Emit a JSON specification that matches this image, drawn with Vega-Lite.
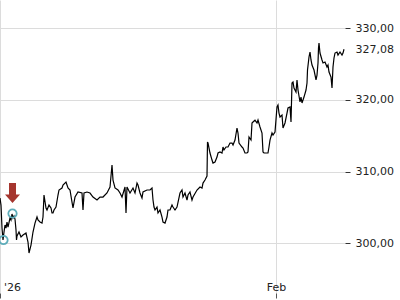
{
  "$schema": "https://vega.github.io/schema/vega-lite/v6.json",
  "width": 345,
  "height": 293,
  "autosize": {"type": "none"},
  "padding": {"left": 0, "top": 0, "right": 55, "bottom": 7},
  "config": {"view": {"stroke": null}, "font": "DejaVu Sans"},
  "datasets": {
    "price": [
      {"t": "2025-12-31T22:39", "v": 306.32},
      {"t": "2026-01-01T01:21", "v": 305.34},
      {"t": "2026-01-01T04:03", "v": 302.13},
      {"t": "2026-01-01T06:45", "v": 300.46},
      {"t": "2026-01-01T09:27", "v": 301.58},
      {"t": "2026-01-01T12:09", "v": 302.55},
      {"t": "2026-01-01T14:51", "v": 302.13},
      {"t": "2026-01-01T17:33", "v": 302.97},
      {"t": "2026-01-01T20:15", "v": 302.27},
      {"t": "2026-01-02T01:39", "v": 303.53},
      {"t": "2026-01-02T04:22", "v": 303.25},
      {"t": "2026-01-02T07:04", "v": 304.09},
      {"t": "2026-01-02T09:46", "v": 303.53},
      {"t": "2026-01-02T12:28", "v": 303.81},
      {"t": "2026-01-02T15:10", "v": 303.39},
      {"t": "2026-01-02T17:52", "v": 301.86},
      {"t": "2026-01-02T19:13", "v": 300.46},
      {"t": "2026-01-02T20:34", "v": 301.02},
      {"t": "2026-01-03T01:58", "v": 301.58},
      {"t": "2026-01-03T07:22", "v": 300.88},
      {"t": "2026-01-03T12:46", "v": 301.16},
      {"t": "2026-01-03T20:52", "v": 301.44},
      {"t": "2026-01-04T02:16", "v": 300.18},
      {"t": "2026-01-04T04:58", "v": 298.65},
      {"t": "2026-01-04T10:22", "v": 299.76},
      {"t": "2026-01-04T15:46", "v": 301.58},
      {"t": "2026-01-04T21:10", "v": 302.83},
      {"t": "2026-01-05T02:34", "v": 303.67},
      {"t": "2026-01-05T05:16", "v": 303.25},
      {"t": "2026-01-05T10:40", "v": 302.97},
      {"t": "2026-01-05T16:04", "v": 302.83},
      {"t": "2026-01-05T18:46", "v": 303.67},
      {"t": "2026-01-05T21:28", "v": 306.74},
      {"t": "2026-01-06T02:52", "v": 304.93},
      {"t": "2026-01-06T05:34", "v": 304.65},
      {"t": "2026-01-06T10:58", "v": 305.34},
      {"t": "2026-01-06T16:23", "v": 304.93},
      {"t": "2026-01-06T19:05", "v": 304.23},
      {"t": "2026-01-06T21:47", "v": 304.23},
      {"t": "2026-01-07T00:29", "v": 304.65},
      {"t": "2026-01-07T05:53", "v": 305.06},
      {"t": "2026-01-07T11:17", "v": 306.74},
      {"t": "2026-01-07T13:59", "v": 307.44},
      {"t": "2026-01-07T22:05", "v": 307.72},
      {"t": "2026-01-08T00:47", "v": 308.13},
      {"t": "2026-01-08T08:53", "v": 308.55},
      {"t": "2026-01-08T11:35", "v": 308.13},
      {"t": "2026-01-08T14:17", "v": 307.72},
      {"t": "2026-01-08T19:41", "v": 307.44},
      {"t": "2026-01-09T01:05", "v": 305.76},
      {"t": "2026-01-09T03:47", "v": 304.93},
      {"t": "2026-01-09T09:11", "v": 306.46},
      {"t": "2026-01-09T17:17", "v": 307.16},
      {"t": "2026-01-10T04:05", "v": 307.02},
      {"t": "2026-01-10T06:47", "v": 304.65},
      {"t": "2026-01-10T09:29", "v": 307.02},
      {"t": "2026-01-10T17:35", "v": 307.16},
      {"t": "2026-01-11T01:42", "v": 307.02},
      {"t": "2026-01-11T09:48", "v": 306.46},
      {"t": "2026-01-11T20:36", "v": 306.04},
      {"t": "2026-01-12T04:42", "v": 306.46},
      {"t": "2026-01-12T12:48", "v": 306.46},
      {"t": "2026-01-12T23:36", "v": 307.02},
      {"t": "2026-01-13T07:43", "v": 307.86},
      {"t": "2026-01-13T13:07", "v": 310.92},
      {"t": "2026-01-13T15:49", "v": 308.83},
      {"t": "2026-01-13T21:13", "v": 307.72},
      {"t": "2026-01-14T05:19", "v": 307.44},
      {"t": "2026-01-14T10:43", "v": 307.02},
      {"t": "2026-01-14T16:07", "v": 306.46},
      {"t": "2026-01-15T00:13", "v": 307.86},
      {"t": "2026-01-15T02:55", "v": 304.23},
      {"t": "2026-01-15T05:37", "v": 307.86},
      {"t": "2026-01-15T13:43", "v": 307.02},
      {"t": "2026-01-15T21:49", "v": 307.72},
      {"t": "2026-01-16T03:13", "v": 307.02},
      {"t": "2026-01-16T08:37", "v": 308.41},
      {"t": "2026-01-16T11:19", "v": 308.13},
      {"t": "2026-01-16T16:43", "v": 307.02},
      {"t": "2026-01-16T22:07", "v": 306.32},
      {"t": "2026-01-17T00:49", "v": 307.16},
      {"t": "2026-01-17T11:37", "v": 307.44},
      {"t": "2026-01-17T19:44", "v": 307.44},
      {"t": "2026-01-18T01:08", "v": 307.72},
      {"t": "2026-01-18T03:50", "v": 306.04},
      {"t": "2026-01-18T06:32", "v": 305.06},
      {"t": "2026-01-18T09:14", "v": 304.65},
      {"t": "2026-01-18T14:38", "v": 305.06},
      {"t": "2026-01-18T17:20", "v": 304.23},
      {"t": "2026-01-18T22:44", "v": 304.65},
      {"t": "2026-01-19T04:08", "v": 303.67},
      {"t": "2026-01-19T06:50", "v": 302.97},
      {"t": "2026-01-19T12:14", "v": 302.83},
      {"t": "2026-01-19T17:38", "v": 303.67},
      {"t": "2026-01-19T20:20", "v": 304.65},
      {"t": "2026-01-20T01:44", "v": 304.65},
      {"t": "2026-01-20T07:08", "v": 305.34},
      {"t": "2026-01-20T09:50", "v": 305.06},
      {"t": "2026-01-20T15:14", "v": 304.65},
      {"t": "2026-01-20T20:38", "v": 305.06},
      {"t": "2026-01-21T04:44", "v": 307.02},
      {"t": "2026-01-21T10:08", "v": 307.44},
      {"t": "2026-01-21T12:50", "v": 306.46},
      {"t": "2026-01-21T18:14", "v": 307.02},
      {"t": "2026-01-21T23:38", "v": 306.04},
      {"t": "2026-01-22T02:20", "v": 306.74},
      {"t": "2026-01-22T07:44", "v": 307.16},
      {"t": "2026-01-22T13:09", "v": 306.04},
      {"t": "2026-01-22T15:51", "v": 306.46},
      {"t": "2026-01-23T02:39", "v": 307.44},
      {"t": "2026-01-23T10:45", "v": 307.86},
      {"t": "2026-01-23T16:09", "v": 307.72},
      {"t": "2026-01-23T18:51", "v": 308.41},
      {"t": "2026-01-24T00:15", "v": 308.83},
      {"t": "2026-01-24T05:39", "v": 309.39},
      {"t": "2026-01-24T07:00", "v": 314.13},
      {"t": "2026-01-24T08:21", "v": 313.99},
      {"t": "2026-01-24T13:45", "v": 312.60},
      {"t": "2026-01-24T19:10", "v": 311.62},
      {"t": "2026-01-24T21:52", "v": 311.20},
      {"t": "2026-01-25T03:16", "v": 311.34},
      {"t": "2026-01-25T08:40", "v": 312.04},
      {"t": "2026-01-25T11:22", "v": 312.60},
      {"t": "2026-01-25T16:46", "v": 312.74},
      {"t": "2026-01-25T22:10", "v": 312.60},
      {"t": "2026-01-26T00:52", "v": 313.44},
      {"t": "2026-01-26T03:34", "v": 313.02},
      {"t": "2026-01-26T08:58", "v": 313.44},
      {"t": "2026-01-26T14:22", "v": 313.44},
      {"t": "2026-01-26T19:46", "v": 313.99},
      {"t": "2026-01-27T01:10", "v": 313.99},
      {"t": "2026-01-27T03:52", "v": 313.72},
      {"t": "2026-01-27T09:16", "v": 314.41},
      {"t": "2026-01-27T14:40", "v": 316.09},
      {"t": "2026-01-27T17:22", "v": 315.39},
      {"t": "2026-01-27T20:04", "v": 313.99},
      {"t": "2026-01-28T04:10", "v": 313.44},
      {"t": "2026-01-28T06:52", "v": 313.30},
      {"t": "2026-01-28T12:16", "v": 312.60},
      {"t": "2026-01-28T17:40", "v": 312.60},
      {"t": "2026-01-28T20:22", "v": 312.74},
      {"t": "2026-01-28T23:04", "v": 314.83},
      {"t": "2026-01-29T04:29", "v": 314.41},
      {"t": "2026-01-29T07:11", "v": 316.79},
      {"t": "2026-01-29T09:53", "v": 316.93},
      {"t": "2026-01-29T15:17", "v": 317.20},
      {"t": "2026-01-29T20:41", "v": 316.79},
      {"t": "2026-01-29T23:23", "v": 317.20},
      {"t": "2026-01-30T04:47", "v": 316.23},
      {"t": "2026-01-30T10:11", "v": 315.39},
      {"t": "2026-01-30T12:53", "v": 312.74},
      {"t": "2026-01-30T15:35", "v": 312.60},
      {"t": "2026-01-30T20:59", "v": 312.60},
      {"t": "2026-01-31T02:23", "v": 312.60},
      {"t": "2026-01-31T05:05", "v": 313.44},
      {"t": "2026-01-31T07:47", "v": 314.41},
      {"t": "2026-01-31T13:11", "v": 315.39},
      {"t": "2026-01-31T15:53", "v": 315.11},
      {"t": "2026-01-31T21:17", "v": 315.53},
      {"t": "2026-02-01T02:41", "v": 319.02},
      {"t": "2026-02-01T05:23", "v": 319.30},
      {"t": "2026-02-01T08:05", "v": 318.18},
      {"t": "2026-02-01T10:47", "v": 317.62},
      {"t": "2026-02-01T16:11", "v": 317.90},
      {"t": "2026-02-01T18:53", "v": 316.09},
      {"t": "2026-02-02T00:17", "v": 316.79},
      {"t": "2026-02-02T05:41", "v": 318.18},
      {"t": "2026-02-02T08:23", "v": 318.88},
      {"t": "2026-02-02T13:48", "v": 319.02},
      {"t": "2026-02-02T16:30", "v": 316.93},
      {"t": "2026-02-02T19:12", "v": 322.37},
      {"t": "2026-02-02T21:54", "v": 322.51},
      {"t": "2026-02-03T00:36", "v": 321.67},
      {"t": "2026-02-03T06:00", "v": 321.11},
      {"t": "2026-02-03T08:42", "v": 322.79},
      {"t": "2026-02-03T11:24", "v": 321.39},
      {"t": "2026-02-03T16:48", "v": 319.72},
      {"t": "2026-02-03T19:30", "v": 320.41},
      {"t": "2026-02-03T22:12", "v": 319.58},
      {"t": "2026-02-04T03:36", "v": 320.41},
      {"t": "2026-02-04T09:01", "v": 321.39},
      {"t": "2026-02-04T11:43", "v": 322.37},
      {"t": "2026-02-04T13:04", "v": 324.18},
      {"t": "2026-02-04T17:07", "v": 326.00},
      {"t": "2026-02-04T19:49", "v": 326.69},
      {"t": "2026-02-04T22:31", "v": 325.58},
      {"t": "2026-02-05T01:13", "v": 324.88},
      {"t": "2026-02-05T06:37", "v": 324.18},
      {"t": "2026-02-05T12:01", "v": 322.79},
      {"t": "2026-02-05T14:43", "v": 323.48},
      {"t": "2026-02-05T17:25", "v": 325.16},
      {"t": "2026-02-05T18:46", "v": 327.25},
      {"t": "2026-02-05T20:07", "v": 327.95},
      {"t": "2026-02-05T22:49", "v": 326.55},
      {"t": "2026-02-06T04:13", "v": 325.58},
      {"t": "2026-02-06T06:55", "v": 325.16},
      {"t": "2026-02-06T12:19", "v": 325.30},
      {"t": "2026-02-06T17:43", "v": 324.60},
      {"t": "2026-02-06T20:25", "v": 324.88},
      {"t": "2026-02-06T23:07", "v": 323.90},
      {"t": "2026-02-07T04:31", "v": 323.20},
      {"t": "2026-02-07T07:13", "v": 321.67},
      {"t": "2026-02-07T09:55", "v": 324.60},
      {"t": "2026-02-07T12:37", "v": 325.86},
      {"t": "2026-02-07T15:19", "v": 326.55},
      {"t": "2026-02-07T20:43", "v": 326.69},
      {"t": "2026-02-07T23:25", "v": 326.27},
      {"t": "2026-02-08T04:49", "v": 326.69},
      {"t": "2026-02-08T10:13", "v": 326.27},
      {"t": "2026-02-08T12:55", "v": 326.55},
      {"t": "2026-02-08T15:37", "v": 327.08}
    ],
    "signals": [
      {"t": "2026-01-01T08:06", "v": 300.46},
      {"t": "2026-01-02T08:25", "v": 304.16}
    ],
    "arrows": [
      {"t": "2026-01-02T08:25", "v": 307.02}
    ]
  },
  "layer": [
    {
      "data": {"name": "price"},
      "mark": {"type": "line", "color": "#000000", "strokeWidth": 1.2},
      "encoding": {
        "x": {
          "field": "t",
          "type": "temporal",
          "scale": {
            "domain": [
              {"year": 2025, "month": 12, "date": 31, "hours": 22, "minutes": 39},
              {"year": 2026, "month": 2, "date": 8, "hours": 18, "minutes": 19}
            ]
          },
          "axis": {
            "orient": "bottom",
            "title": null,
            "values": [
              {"year": 2026, "month": 1, "date": 1},
              {"year": 2026, "month": 2, "date": 1}
            ],
            "labelExpr": "month(datum.value) == 0 ? \"'26\" : timeFormat(datum.value, '%b')",
            "domain": false,
            "grid": true,
            "gridColor": "#dcdcdc",
            "gridWidth": 1,
            "tickSize": 5,
            "tickColor": "#555555",
            "labelFlush": 5,
            "labelFlushOffset": -3,
            "labelBaseline": "alphabetic",
            "labelPadding": -8,
            "labelFont": "DejaVu Sans",
            "labelFontSize": 11,
            "labelColor": "#222222"
          }
        },
        "y": {
          "field": "v",
          "type": "quantitative",
          "scale": {"domain": [293.07, 333.95], "nice": false, "zero": false},
          "axis": {
            "orient": "right",
            "title": null,
            "values": [300, 310, 320, 330, 327.08],
            "labelExpr": "replace(format(datum.value, '.2f'), '.', ',')",
            "domain": false,
            "grid": true,
            "gridColor": "#dcdcdc",
            "gridOpacity": {"condition": {"test": "datum.value == 327.08", "value": 0}, "value": 1},
            "tickOpacity": {"condition": {"test": "datum.value == 327.08", "value": 0}, "value": 1},
            "tickSize": 5,
            "tickColor": "#333333",
            "labelPadding": 5,
            "labelFont": "DejaVu Sans",
            "labelFontSize": 11,
            "labelColor": "#222222"
          }
        }
      }
    },
    {
      "data": {"name": "signals"},
      "mark": {"type": "point", "shape": "circle", "filled": false, "stroke": "#5fadba", "strokeWidth": 1.8, "size": 70, "opacity": 1},
      "encoding": {
        "x": {"field": "t", "type": "temporal"},
        "y": {"field": "v", "type": "quantitative"}
      }
    },
    {
      "data": {"name": "arrows"},
      "mark": {"type": "point", "shape": "M-0.35,-1L0.35,-1L0.35,0.15L0.75,0.15L0,1L-0.75,0.15L-0.35,0.15Z", "filled": true, "color": "#a5352e", "size": 400, "opacity": 1, "strokeWidth": 0},
      "encoding": {
        "x": {"field": "t", "type": "temporal"},
        "y": {"field": "v", "type": "quantitative"}
      }
    }
  ]
}
